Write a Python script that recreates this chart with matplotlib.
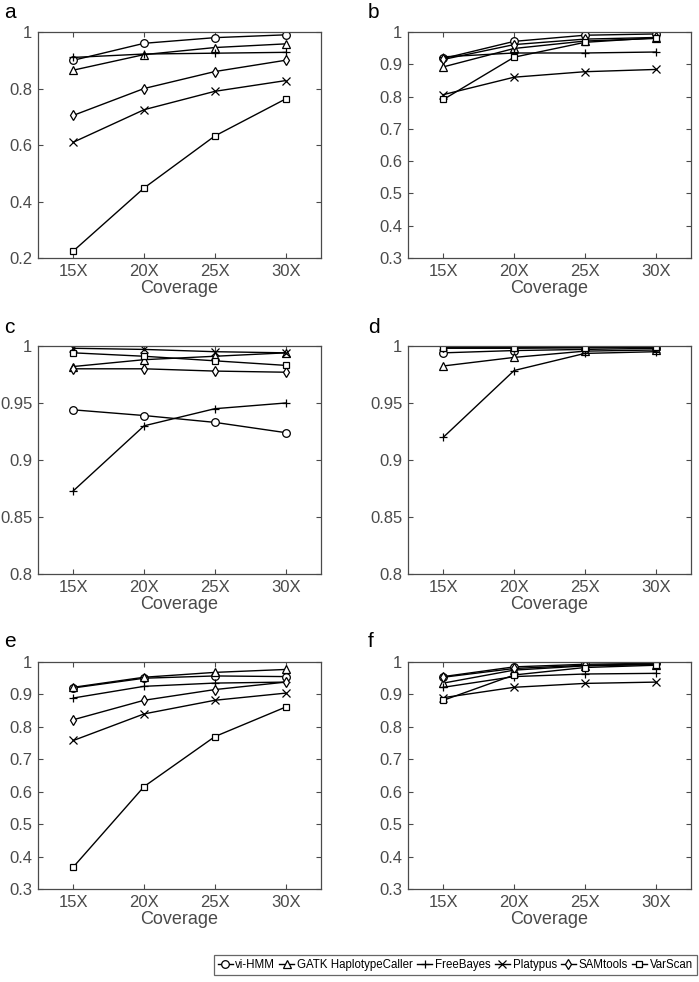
import matplotlib
matplotlib.use("Agg")
import matplotlib.pyplot as plt
from matplotlib.lines import Line2D

plt.rcParams['font.family'] = ['Liberation Sans', 'DejaVu Sans']

coverage = ["15X", "20X", "25X", "30X"]
methods = ["vi-HMM", "GATK HaplotypeCaller", "FreeBayes", "Platypus", "SAMtools", "VarScan"]
markers = ["o", "^", "+", "x", "d", "s"]

panel_a = {
    "vi-HMM": [0.900, 0.960, 0.980, 0.990],
    "GATK HaplotypeCaller": [0.865, 0.920, 0.945, 0.958],
    "FreeBayes": [0.910, 0.922, 0.925, 0.928],
    "Platypus": [0.610, 0.725, 0.790, 0.828],
    "SAMtools": [0.705, 0.800, 0.860, 0.900],
    "VarScan": [0.225, 0.448, 0.632, 0.763],
}
panel_b = {
    "vi-HMM": [0.918, 0.971, 0.990, 0.994],
    "GATK HaplotypeCaller": [0.892, 0.949, 0.972, 0.980],
    "FreeBayes": [0.923, 0.935, 0.935, 0.938],
    "Platypus": [0.806, 0.860, 0.877, 0.884],
    "SAMtools": [0.915, 0.961, 0.978, 0.983],
    "VarScan": [0.791, 0.922, 0.968, 0.982],
}
panel_c = {
    "vi-HMM": [0.944, 0.939, 0.933, 0.924],
    "GATK HaplotypeCaller": [0.982, 0.988, 0.991, 0.994],
    "FreeBayes": [0.873, 0.930, 0.945, 0.950],
    "Platypus": [0.998, 0.997, 0.995, 0.994],
    "SAMtools": [0.980, 0.980, 0.978, 0.977],
    "VarScan": [0.994, 0.991, 0.987, 0.983],
}
panel_d = {
    "vi-HMM": [0.994, 0.996, 0.997, 0.998],
    "GATK HaplotypeCaller": [0.9825, 0.990, 0.9955, 0.9965],
    "FreeBayes": [0.920, 0.9785, 0.9935, 0.995],
    "Platypus": [0.9998, 0.9998, 0.9998, 0.9998],
    "SAMtools": [0.9993, 0.9993, 0.9993, 0.9993],
    "VarScan": [0.998, 0.998, 0.9985, 0.999],
}
panel_e = {
    "vi-HMM": [0.920, 0.950, 0.957, 0.955],
    "GATK HaplotypeCaller": [0.922, 0.953, 0.968, 0.977],
    "FreeBayes": [0.889, 0.925, 0.935, 0.938],
    "Platypus": [0.758, 0.840, 0.882, 0.904],
    "SAMtools": [0.822, 0.882, 0.915, 0.938],
    "VarScan": [0.368, 0.616, 0.770, 0.861],
}
panel_f = {
    "vi-HMM": [0.955, 0.985, 0.993, 0.996],
    "GATK HaplotypeCaller": [0.935, 0.975, 0.988, 0.992],
    "FreeBayes": [0.922, 0.955, 0.963, 0.965],
    "Platypus": [0.890, 0.922, 0.934, 0.938],
    "SAMtools": [0.953, 0.980, 0.990, 0.994],
    "VarScan": [0.882, 0.960, 0.983, 0.990],
}

yt_a = [0.2, 0.4, 0.6, 0.8, 1.0]
yt_b = [0.3, 0.4, 0.5, 0.6, 0.7, 0.8, 0.9, 1.0]
yt_c = [0.8, 0.85, 0.9, 0.95, 1.0]

panels = [
    ("a", panel_a, yt_a, (38, 32, 321, 258), (4, 18)),
    ("b", panel_b, yt_b, (408, 32, 691, 258), (368, 18)),
    ("c", panel_c, yt_c, (38, 346, 321, 574), (4, 333)),
    ("d", panel_d, yt_c, (408, 346, 691, 574), (368, 333)),
    ("e", panel_e, yt_b, (38, 662, 321, 889), (4, 647)),
    ("f", panel_f, yt_b, (408, 662, 691, 889), (368, 647)),
]

W, H = 699, 982
fig = plt.figure(figsize=(W / 100, H / 100), dpi=100)
gray = "#4a4a4a"

def fmt(v):
    return ("%.2f" % v).rstrip("0").rstrip(".")

def style(mk):
    ms = 5.5 if mk in ("o", "^", "d") else 6
    if mk == "s":
        ms = 4.5
    return dict(color="black", lw=1.0, marker=mk, ms=ms,
                mfc="white" if mk not in ("+", "x") else "black",
                mec="black", mew=0.9)

x = list(range(1, len(coverage) + 1))
for label, data, yt, (l, t, r, b), (lx, ly) in panels:
    ax = fig.add_axes([l / W, 1 - b / H, (r - l) / W, (b - t) / H])
    for m, mk in zip(methods, markers):
        ax.plot(x, data[m], **style(mk))
    ax.set_xlim(0.5, 4.5)
    ax.set_ylim(yt[0], yt[-1])
    ax.set_xticks(x)
    ax.set_xticklabels(coverage)
    ax.set_yticks(yt)
    ax.set_yticklabels([fmt(v) for v in yt])
    ax.tick_params(direction="in", top=True, right=True, length=3.5,
                   width=0.8, colors=gray, labelsize=12, pad=4)
    for s in ax.spines.values():
        s.set_color(gray)
        s.set_linewidth(0.9)
    ax.set_xlabel("Coverage", fontsize=13, color=gray, labelpad=1)
    fig.text(lx / W, 1 - ly / H, label, fontsize=15, color="black",
             ha="left", va="baseline")

handles = [Line2D([], [], **style(mk)) for mk in markers]
leg = fig.legend(handles, methods, loc="center right",
                 bbox_to_anchor=(697 / W, 1 - 965 / H), ncol=6,
                 fontsize=8.3, frameon=True, fancybox=False,
                 handlelength=1.3, handletextpad=0.25, columnspacing=0.35,
                 borderpad=0.35, borderaxespad=0.0)
leg.get_frame().set_edgecolor("#404040")
leg.get_frame().set_linewidth(0.9)
for tx in leg.get_texts():
    tx.set_color("black")

fig.savefig("out.png", dpi=100)
